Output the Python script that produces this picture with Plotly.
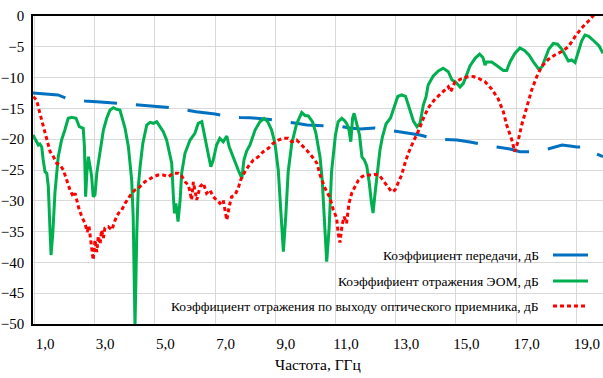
import plotly.graph_objects as go

# ---- data (frequency in GHz, level in dB) ----
blue_f = [0.60, 1.00, 1.43, 1.73, 2.03, 2.33, 2.83, 3.43, 3.82, 4.12, 4.82, 5.35, 5.68, 6.02, 6.65,
          7.15, 7.48, 7.81, 8.48, 9.07, 9.41, 9.70, 10.30, 10.87, 11.13, 11.47, 11.96, 12.40, 12.69,
          12.99, 13.46, 14.02, 14.36, 14.69, 15.12, 15.55, 15.78, 16.02, 16.45, 16.78, 17.01, 17.21,
          17.71, 18.18, 18.44, 18.67, 18.94, 19.17, 19.54]
blue_db = [-12.50, -12.66, -12.82, -13.39, -13.64, -13.80, -13.96, -14.20, -14.37, -14.50, -14.69,
           -14.94, -15.26, -15.54, -15.91, -16.40, -16.48, -16.51, -16.80, -17.16, -17.45, -17.69,
           -17.81, -17.97, -18.18, -18.34, -18.18, -18.51, -18.67, -18.94, -19.32, -20.02, -20.05,
           -20.13, -20.45, -20.94, -21.10, -21.27, -21.59, -22.03, -22.08, -22.03, -21.59, -20.94,
           -21.10, -21.27, -21.22, -22.03, -22.84]

green_f = [0.60, 0.70, 0.78, 0.83, 0.89, 0.94, 1.00, 1.06, 1.11, 1.17, 1.20, 1.26, 1.33, 1.44, 1.55,
           1.66, 1.77, 1.89, 2.03, 2.14, 2.27, 2.31, 2.35, 2.39, 2.44, 2.50, 2.55, 2.60, 2.66, 2.72,
           2.83, 2.94, 3.05, 3.16, 3.27, 3.38, 3.49, 3.55, 3.66, 3.77, 3.88, 3.93, 3.99, 4.05, 4.10,
           4.16, 4.25, 4.38, 4.49, 4.60, 4.71, 4.82, 4.93, 5.04, 5.15, 5.21, 5.26, 5.30, 5.35, 5.42,
           5.49, 5.54, 5.65, 5.82, 5.98, 6.09, 6.21, 6.32, 6.43, 6.51, 6.59, 6.70, 6.81, 6.92, 7.04,
           7.12, 7.26, 7.42, 7.54, 7.61, 7.70, 7.81, 7.98, 8.14, 8.28, 8.40, 8.53, 8.64, 8.75, 8.84,
           8.92, 9.00, 9.08, 9.20, 9.36, 9.53, 9.64, 9.75, 9.89, 10.00, 10.14, 10.21, 10.30, 10.36,
           10.44, 10.52, 10.65, 10.74, 10.86, 10.95, 11.03, 11.10, 11.16, 11.22, 11.27, 11.36, 11.45,
           11.53, 11.61, 11.69, 11.77, 11.85, 11.90, 11.96, 12.05, 12.13, 12.21, 12.33, 12.48, 12.57,
           12.65, 12.72, 12.85, 12.98, 13.09, 13.24, 13.36, 13.46, 13.57, 13.66, 13.73, 13.90, 14.07,
           14.23, 14.40, 14.52, 14.64, 14.79, 14.90, 15.01, 15.12, 15.29, 15.44, 15.55, 15.62, 15.67,
           15.84, 16.03, 16.23, 16.34, 16.45, 16.61, 16.78, 16.93, 17.08, 17.25, 17.40, 17.51, 17.61,
           17.74, 17.89, 18.03, 18.17, 18.33, 18.39, 18.50, 18.61, 18.72, 18.83, 18.94, 19.07, 19.24,
           19.41, 19.54]
green_db = [-19.32, -20.13, -20.94, -20.78, -21.22, -23.38, -25.28, -25.54, -27.71, -35.23, -38.80,
            -35.23, -28.73, -22.84, -20.13, -18.51, -16.61, -16.44, -16.61, -17.97, -18.23, -21.22,
            -29.33, -25.54, -22.84, -24.46, -26.09, -29.33, -29.06, -25.54, -21.75, -18.51, -16.61,
            -15.26, -14.89, -15.15, -15.26, -16.35, -18.23, -21.22, -26.62, -32.58, -50.50, -35.23,
            -27.71, -24.46, -20.67, -17.69, -17.26, -17.42, -17.16, -17.97, -18.78, -20.13, -22.29,
            -23.91, -28.78, -32.03, -30.41, -33.39, -29.87, -25.54, -22.29, -20.13, -19.04, -17.42,
            -17.16, -19.59, -22.56, -24.46, -23.38, -20.94, -19.85, -20.41, -19.48, -21.22, -23.05,
            -25.00, -26.35, -23.38, -21.92, -20.94, -18.51, -17.16, -16.64, -17.16, -18.51, -20.67,
            -25.00, -31.49, -38.26, -32.47, -25.28, -20.67, -17.53, -15.67, -16.15, -16.23, -17.21,
            -18.99, -22.97, -26.62, -34.74, -39.89, -34.42, -25.32, -19.32, -17.16, -16.61, -16.96,
            -17.53, -18.51, -20.41, -16.56, -15.80, -17.69, -19.32, -22.89, -23.38, -24.35, -26.95,
            -30.41, -31.98, -29.06, -25.32, -21.75, -19.64, -17.53, -16.56, -15.26, -13.96, -13.07,
            -12.82, -13.04, -14.72, -17.05, -17.97, -17.42, -14.45, -13.15, -11.20, -9.74, -8.93,
            -8.49, -9.04, -10.39, -10.71, -11.53, -10.93, -9.58, -8.12, -6.87, -6.20, -6.74, -7.95,
            -7.47, -7.47, -8.12, -8.85, -8.85, -7.47, -6.09, -5.19, -5.58, -6.33, -7.63, -8.60, -8.28,
            -6.87, -5.36, -4.46, -4.58, -5.36, -6.61, -7.31, -7.14, -7.55, -5.80, -4.06, -3.08, -3.30,
            -4.06, -4.87, -6.06]

red_f = [0.61, 0.72, 0.83, 0.94, 1.06, 1.17, 1.28, 1.39, 1.50, 1.61, 1.72, 1.83, 1.94, 2.00, 2.11,
         2.22, 2.33, 2.40, 2.46, 2.55, 2.60, 2.66, 2.72, 2.77, 2.83, 2.88, 2.94, 2.99, 3.10, 3.22,
         3.33, 3.44, 3.55, 3.66, 3.77, 3.88, 3.99, 4.10, 4.21, 4.32, 4.43, 4.60, 4.76, 4.93, 5.10,
         5.26, 5.43, 5.54, 5.65, 5.76, 5.82, 5.87, 5.93, 5.98, 6.04, 6.15, 6.26, 6.37, 6.48, 6.59,
         6.70, 6.81, 6.92, 7.04, 7.12, 7.20, 7.31, 7.42, 7.50, 7.61, 7.75, 7.92, 8.09, 8.25, 8.42,
         8.58, 8.75, 8.92, 9.08, 9.20, 9.36, 9.53, 9.69, 9.86, 10.03, 10.14, 10.30, 10.47, 10.58,
         10.69, 10.74, 10.80, 10.87, 10.94, 11.02, 11.10, 11.19, 11.30, 11.41, 11.52, 11.63, 11.80,
         11.96, 12.10, 12.24, 12.37, 12.52, 12.63, 12.74, 12.85, 12.96, 13.07, 13.24, 13.40, 13.57,
         13.73, 13.96, 14.18, 14.40, 14.48, 14.62, 14.84, 15.02, 15.23, 15.40, 15.62, 15.84, 16.06,
         16.23, 16.34, 16.42, 16.51, 16.61, 16.72, 16.84, 17.00, 17.17, 17.34, 17.50, 17.72, 17.94,
         18.17, 18.39, 18.61, 18.83, 19.05, 19.22, 19.54]
red_db = [-13.10, -13.64, -15.80, -17.97, -20.13, -22.03, -22.84, -23.91, -24.19, -25.00, -26.62,
          -28.25, -29.33, -28.78, -30.96, -32.58, -33.65, -35.06, -34.09, -37.18, -39.61, -36.36,
          -38.31, -35.71, -37.01, -34.74, -36.04, -34.42, -34.20, -34.74, -33.12, -32.03, -31.49,
          -30.41, -29.59, -28.78, -28.25, -27.97, -27.44, -26.90, -26.62, -26.09, -25.81, -25.81,
          -26.09, -25.54, -25.54, -25.97, -26.90, -27.44, -28.57, -29.87, -26.95, -28.57, -29.87,
          -27.71, -27.16, -28.78, -28.25, -29.33, -29.87, -30.41, -29.87, -33.12, -30.96, -29.33,
          -29.06, -27.97, -26.62, -25.54, -24.46, -23.38, -22.84, -22.03, -21.48, -20.67, -20.13,
          -19.85, -19.85, -20.41, -20.13, -20.94, -21.75, -22.73, -23.86, -25.81, -27.92, -29.55,
          -31.49, -32.79, -35.28, -36.77, -33.93, -32.58, -33.65, -30.41, -28.78, -27.71, -26.70,
          -26.14, -25.81, -25.81, -25.73, -25.81, -26.70, -27.44, -28.57, -28.25, -27.11, -25.81,
          -23.91, -22.29, -20.37, -18.75, -16.64, -14.94, -13.47, -12.42, -11.48, -12.29, -10.71,
          -10.19, -9.90, -9.82, -10.11, -10.67, -11.85, -13.47, -15.58, -17.69, -18.83, -20.13,
          -22.03, -20.29, -17.69, -14.94, -12.01, -9.85, -8.23, -7.06, -6.33, -5.76, -4.98, -3.36,
          -1.95, -0.86, 0.08, 1.46]

names = ["Коэффициент передачи, дБ",
         "Коэффифиент отражения ЭОМ, дБ",
         "Коэффициент отражения по выходу оптического приемника, дБ"]

x_ticks = [1, 3, 5, 7, 9, 11, 13, 15, 17, 19]
x_tick_text = ["1,0", "3,0", "5,0", "7,0", "9,0", "11,0", "13,0", "15,0", "17,0", "19,0"]
y_ticks = [0, -5, -10, -15, -20, -25, -30, -35, -40, -45, -50]

# ---- styling ----
BLUE, GREEN, RED = "#0070C0", "#00B050", "#FF0000"
FONT = "Liberation Serif"
W, H = 603, 378
ML, MR, MT, MB = 33, 0, 16, 54
grid_offset = 0.35
grid_x = [t - grid_offset for t in x_ticks]

fig = go.Figure()
fig.add_trace(go.Scatter(x=blue_f, y=blue_db, mode="lines", name=names[0],
                         line=dict(color=BLUE, width=3, dash="33px,19px")))
fig.add_trace(go.Scatter(x=green_f, y=green_db, mode="lines", name=names[1],
                         line=dict(color=GREEN, width=3)))
fig.add_trace(go.Scatter(x=red_f, y=red_db, mode="lines", name=names[2],
                         line=dict(color=RED, width=3, dash="4px,3px")))

pw = W - ML - MR
ph = H - MT - MB

def px_x(p):
    return (p - ML) / pw

def px_y(p):
    return (H - MB - p) / ph

legend_rows = [(255, BLUE, "solid"), (281, GREEN, "solid"), (306, RED, "dot")]
for (yy, col, d), txt in zip(legend_rows, names):
    fig.add_annotation(x=px_x(541), y=px_y(yy), xref="paper", yref="paper", text=txt,
                       showarrow=False, xanchor="right", yanchor="middle",
                       font=dict(family=FONT, size=13.5, color="#000000"))
    fig.add_shape(type="line", xref="paper", yref="paper",
                  x0=px_x(553), x1=px_x(588), y0=px_y(yy), y1=px_y(yy),
                  line=dict(color=col, width=3, dash="4px,3px" if d == "dot" else "solid"))

fig.update_layout(
    width=W, height=H,
    margin=dict(l=ML, r=MR, t=MT, b=MB),
    paper_bgcolor="white", plot_bgcolor="white",
    showlegend=False,
    font=dict(family=FONT, size=15, color="#000000"),
)
fig.update_xaxes(
    range=[0.601, 19.54], tickmode="array", tickvals=x_ticks, ticktext=x_tick_text,
    showgrid=False, zeroline=False, ticks="", ticklabelstandoff=5,
    minor=dict(tickmode="array", tickvals=grid_x, showgrid=True, gridcolor="#D9D9D9", gridwidth=1, ticks=""),
    showline=True, linecolor="#000000", linewidth=1.5, mirror=True,
    title=dict(text="Частота, ГГц", standoff=8, font=dict(family=FONT, size=15.5)),
    tickfont=dict(family=FONT, size=15),
)
fig.update_yaxes(
    range=[-50, 0], tickmode="array", tickvals=y_ticks,
    showgrid=True, gridcolor="#D9D9D9", gridwidth=1, zeroline=False, ticks="",
    showline=True, linecolor="#000000", linewidth=1.5, mirror=False,
    tickfont=dict(family=FONT, size=15), ticklabelstandoff=4,
)

fig.write_html("out.html")
